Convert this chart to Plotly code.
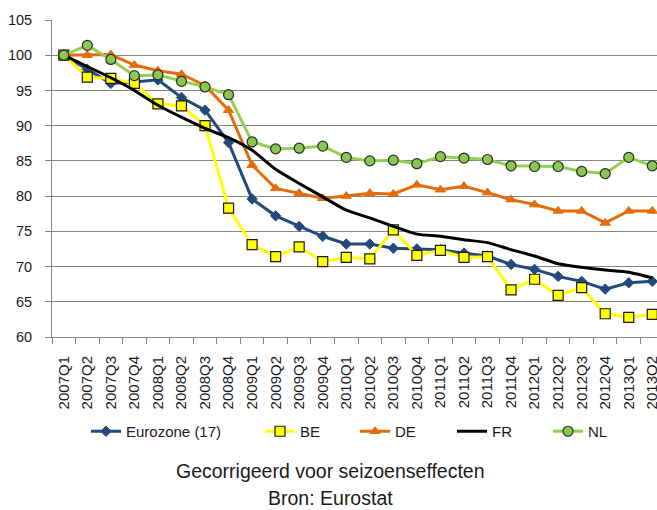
import plotly.graph_objects as go

quarters = ["2007Q1","2007Q2","2007Q3","2007Q4","2008Q1","2008Q2","2008Q3","2008Q4",
            "2009Q1","2009Q2","2009Q3","2009Q4","2010Q1","2010Q2","2010Q3","2010Q4",
            "2011Q1","2011Q2","2011Q3","2011Q4","2012Q1","2012Q2","2012Q3","2012Q4",
            "2013Q1","2013Q2"]

eurozone = [100, 98.0, 96.0, 96.2, 96.5, 94.0, 92.2, 87.6, 79.6, 77.2, 75.7, 74.3, 73.2,
            73.2, 72.6, 72.5, 72.4, 71.9, 71.5, 70.3, 69.6, 68.6, 67.9, 66.8, 67.7, 67.9]
be = [100, 96.9, 96.7, 96.0, 93.1, 92.8, 90.0, 78.3, 73.1, 71.4, 72.8, 70.7, 71.3,
      71.1, 75.2, 71.6, 72.3, 71.3, 71.4, 66.7, 68.2, 65.9, 67.0, 63.3, 62.8, 63.2]
de = [100, 100.0, 100.1, 98.6, 97.8, 97.3, 95.7, 92.2, 84.4, 81.1, 80.4, 79.7, 80.0,
      80.4, 80.3, 81.6, 80.9, 81.4, 80.5, 79.5, 78.8, 77.9, 77.9, 76.2, 77.9, 77.9]
fr = [100, 98.4, 96.8, 95.0, 92.9, 91.2, 89.6, 88.3, 86.5, 83.8, 81.8, 79.9, 78.0,
      76.9, 75.7, 74.6, 74.3, 73.8, 73.4, 72.4, 71.5, 70.4, 69.9, 69.5, 69.2, 68.4]
nl = [100, 101.4, 99.4, 97.1, 97.2, 96.3, 95.5, 94.4, 87.7, 86.7, 86.8, 87.1, 85.5,
      85.0, 85.1, 84.6, 85.6, 85.4, 85.2, 84.3, 84.2, 84.2, 83.5, 83.2, 85.5, 84.3]

y_ticks = [60, 65, 70, 75, 80, 85, 90, 95, 100, 105]

FONT = "Liberation Sans, Arial, sans-serif"
TXT = "#1a1a1a"
AXC = "#868686"

fig = go.Figure()
fig.add_trace(go.Scatter(x=quarters, y=eurozone, name="Eurozone (17)", mode="lines+markers",
                         line=dict(color="#24497B", width=3),
                         marker=dict(symbol="diamond", size=8, color="#24497B",
                                     line=dict(color="#24497B", width=1)),
                         legend="legend", cliponaxis=False))
fig.add_trace(go.Scatter(x=quarters, y=be, name="BE", mode="lines+markers",
                         line=dict(color="#FFFF00", width=3),
                         marker=dict(symbol="square", size=10, color="#FFFF00",
                                     line=dict(color="#1a1a1a", width=1.2)),
                         legend="legend2", cliponaxis=False))
fig.add_trace(go.Scatter(x=quarters, y=de, name="DE", mode="lines+markers",
                         line=dict(color="#E46C0A", width=3),
                         marker=dict(symbol="triangle-up", size=9, color="#E46C0A",
                                     line=dict(color="#E46C0A", width=1)),
                         legend="legend3", cliponaxis=False))
fig.add_trace(go.Scatter(x=quarters, y=fr, name="FR", mode="lines",
                         line=dict(color="#000000", width=3, shape="spline", smoothing=0.6),
                         legend="legend4", cliponaxis=False))
fig.add_trace(go.Scatter(x=quarters, y=nl, name="NL", mode="lines+markers",
                         line=dict(color="#92D050", width=3),
                         marker=dict(symbol="circle", size=10, color="#8CC850",
                                     line=dict(color="#2a2a2a", width=1.2)),
                         legend="legend5", cliponaxis=False))

# positions below are in window pixels (body margin removed via post_script)
W_L, W_R, W_T, W_B = 52, 657, 20, 337.4
pw = W_R - W_L
ph = W_B - W_T
FIG_W, FIG_H = 657, 510

def px_x(p):
    return (p - W_L) / pw

def px_y(p):
    return (W_B - p) / ph

leg_common = dict(orientation="h", yanchor="middle", xanchor="left",
                  font=dict(family=FONT, size=15, color=TXT),
                  bgcolor="rgba(0,0,0,0)", borderwidth=0)
leg_y = px_y(432)
layout_legends = {}
for key, text_start in [("legend", 126), ("legend2", 300), ("legend3", 395),
                        ("legend4", 492), ("legend5", 588)]:
    layout_legends[key] = dict(leg_common, x=px_x(text_start - 40), y=leg_y)

fig.update_layout(
    width=FIG_W, height=FIG_H,
    margin=dict(l=W_L, r=FIG_W - W_R, t=W_T, b=FIG_H - W_B, autoexpand=False),
    paper_bgcolor="white", plot_bgcolor="white",
    font=dict(family=FONT, size=14, color=TXT),
    showlegend=True,
    **layout_legends,
    xaxis=dict(type="category", range=[-0.5, 25.2], tickangle=-90,
               tickson="boundaries", ticks="outside", ticklen=6, tickcolor=AXC,
               showline=True, linecolor=AXC, linewidth=1, showgrid=False,
               tickfont=dict(family=FONT, size=15, color=TXT),
               ticklabelstandoff=12),
    yaxis=dict(range=[60, 105], tickvals=y_ticks, ticks="outside", ticklen=6,
               tickcolor=AXC, showline=True, linecolor=AXC, linewidth=1,
               showgrid=True, gridcolor=AXC, gridwidth=1, zeroline=False,
               tickfont=dict(family=FONT, size=14.5, color=TXT),
               ticklabelstandoff=10),
    annotations=[
        dict(text="Gecorrigeerd voor seizoenseffecten", xref="paper", yref="paper",
             x=px_x(330), y=px_y(472), xanchor="center", yanchor="middle",
             showarrow=False, font=dict(family=FONT, size=19.5, color=TXT)),
        dict(text="Bron: Eurostat", xref="paper", yref="paper",
             x=px_x(330), y=px_y(499), xanchor="center", yanchor="middle",
             showarrow=False, font=dict(family=FONT, size=19.5, color=TXT)),
    ],
)

fig.write_html("out.html", config={"displayModeBar": False},
               post_script="document.body.style.margin='0';document.body.style.overflow='hidden';")
